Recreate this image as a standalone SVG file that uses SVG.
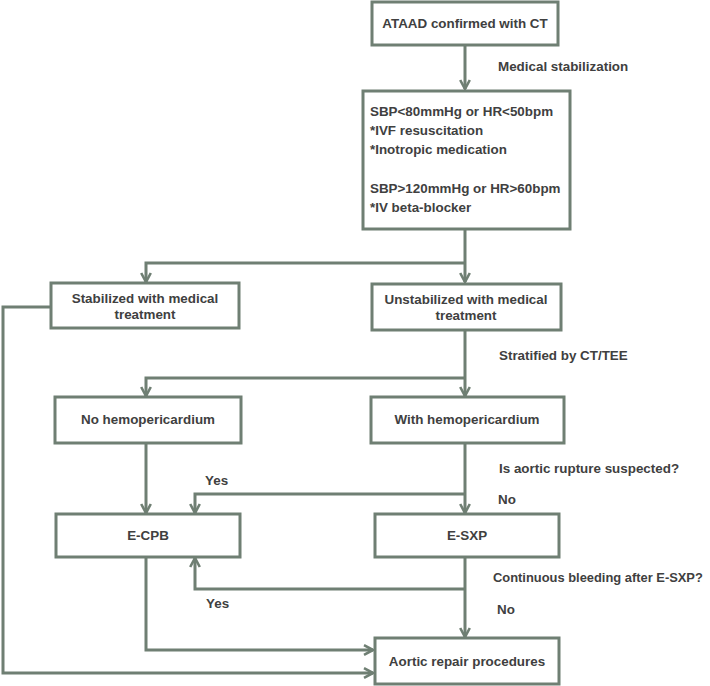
<svg xmlns="http://www.w3.org/2000/svg" width="710" height="686" viewBox="0 0 710 686">
<style>
.box{fill:#fff;stroke:#6f7f73;stroke-width:3}
.ln{fill:none;stroke:#6f7f73;stroke-width:3}
text{font-family:"Liberation Sans",Arial,sans-serif;font-weight:bold;font-size:13.4px;fill:#404040}
.c{text-anchor:middle}
.s{font-size:12.9px}
</style>
<defs>
<marker id="ah" viewBox="0 0 12 12" refX="10.5" refY="6" markerWidth="12" markerHeight="12" markerUnits="userSpaceOnUse" orient="auto">
<path d="M1.5,1.2 L10.5,6 L1.5,10.8" fill="none" stroke="#6f7f73" stroke-width="2.6"/>
</marker>
</defs>
<rect width="710" height="686" fill="#fff"/>
<g id="connectors">
<path class="ln" d="M465,45 V89" marker-end="url(#ah)"/>
<path class="ln" d="M465,229 V282" marker-end="url(#ah)"/>
<path class="ln" d="M465,263 H146 V282" marker-end="url(#ah)"/>
<path class="ln" d="M465,330 V396" marker-end="url(#ah)"/>
<path class="ln" d="M465,378 H146 V396" marker-end="url(#ah)"/>
<path class="ln" d="M465,443 V513" marker-end="url(#ah)"/>
<path class="ln" d="M465,494 H195 V513" marker-end="url(#ah)"/>
<path class="ln" d="M146,443 V513" marker-end="url(#ah)"/>
<path class="ln" d="M465,557 V637" marker-end="url(#ah)"/>
<path class="ln" d="M465,589 H195 V558" marker-end="url(#ah)"/>
<path class="ln" d="M146,557 V650 H373" marker-end="url(#ah)"/>
<path class="ln" d="M51,307 H3 V673 H373" marker-end="url(#ah)"/>
</g>
<g id="labels">
<text x="498" y="71">Medical stabilization</text>
<text x="499" y="360">Stratified by CT/TEE</text>
<text x="499" y="473">Is aortic rupture suspected?</text>
<text x="205" y="485">Yes</text>
<text x="498" y="504">No</text>
<text class="s" x="493" y="582">Continuous bleeding after E-SXP?</text>
<text x="206" y="608">Yes</text>
<text x="497" y="614">No</text>
</g>
<g id="n1"><rect class="box" x="372" y="2" width="186" height="43"/><text class="c" x="465" y="28">ATAAD confirmed with CT</text></g>
<g id="n2"><rect class="box" x="363" y="91" width="207" height="138"/>
<text x="370" y="116">SBP&lt;80mmHg or HR&lt;50bpm</text>
<text x="370" y="135">*IVF resuscitation</text>
<text x="370" y="154">*Inotropic medication</text>
<text x="370" y="193">SBP&gt;120mmHg or HR&gt;60bpm</text>
<text x="370" y="212">*IV beta-blocker</text></g>
<g id="n3"><rect class="box" x="51" y="283" width="188" height="45"/><text class="c" x="145" y="303">Stabilized with medical</text><text class="c" x="145" y="319">treatment</text></g>
<g id="n4"><rect class="box" x="372" y="284" width="189" height="46"/><text class="c" x="466" y="304">Unstabilized with medical</text><text class="c" x="466" y="320">treatment</text></g>
<g id="n5"><rect class="box" x="55" y="397" width="186" height="46"/><text class="c" x="148" y="424">No hemopericardium</text></g>
<g id="n6"><rect class="box" x="371" y="397" width="193" height="46"/><text class="c" x="467" y="424">With hemopericardium</text></g>
<g id="n7"><rect class="box" x="56" y="514" width="184" height="43"/><text class="c" x="148" y="540">E-CPB</text></g>
<g id="n8"><rect class="box" x="375" y="514" width="184" height="43"/><text class="c" x="467" y="540">E-SXP</text></g>
<g id="n9"><rect class="box" x="375" y="638" width="184" height="46"/><text class="c" x="467" y="666">Aortic repair procedures</text></g>
</svg>
